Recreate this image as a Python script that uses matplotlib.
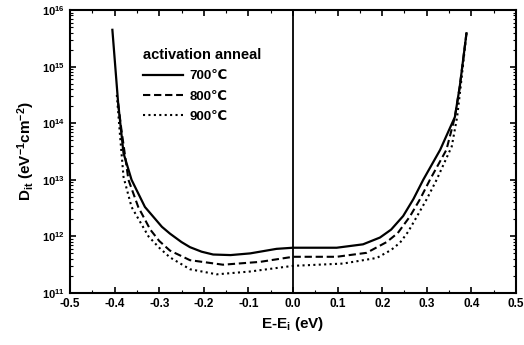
import numpy as np
import matplotlib
matplotlib.use("Agg")
import matplotlib.pyplot as plt
from matplotlib.ticker import MultipleLocator, LogLocator, NullFormatter

plt.rcParams['font.family'] = ['Liberation Sans', 'DejaVu Sans']
plt.rcParams['font.weight'] = 'bold'
plt.rcParams['mathtext.fontset'] = 'custom'
plt.rcParams['mathtext.rm'] = 'Liberation Sans:bold'
plt.rcParams['mathtext.bf'] = 'Liberation Sans:bold'
plt.rcParams['mathtext.it'] = 'Liberation Sans:bold'

# energy (eV) and log10(Dit)
e_700 = [-0.405, -0.392, -0.380, -0.362, -0.332, -0.294, -0.276, -0.250, -0.231, -0.205,
         -0.179, -0.140, -0.096, -0.037, 0.0, 0.098, 0.157, 0.195, 0.220, 0.247,
         0.270, 0.292, 0.330, 0.363, 0.374, 0.389]
log_700 = [15.65, 14.35, 13.47, 13.0, 12.52, 12.17, 12.05, 11.9, 11.81, 11.73,
           11.68, 11.67, 11.70, 11.78, 11.80, 11.80, 11.86, 11.98, 12.12, 12.36,
           12.66, 13.0, 13.53, 14.11, 14.65, 15.59]

e_800 = [-0.392, -0.385, -0.369, -0.347, -0.32, -0.30, -0.276, -0.231, -0.157, -0.074,
         0.0, 0.098, 0.165, 0.21, 0.235, 0.262, 0.285, 0.307, 0.344, 0.363, 0.374, 0.389]
log_800 = [14.35, 13.9, 13.0, 12.52, 12.12, 11.92, 11.75, 11.58, 11.50, 11.55,
           11.64, 11.64, 11.71, 11.9, 12.06, 12.35, 12.66, 13.0, 13.53, 14.11, 14.65, 15.59]

e_900 = [-0.395, -0.388, -0.380, -0.362, -0.324, -0.30, -0.276, -0.231, -0.171, -0.096,
         0.0, 0.112, 0.188, 0.220, 0.24, 0.258, 0.277, 0.300, 0.322, 0.356, 0.368, 0.376, 0.389]
log_900 = [14.5, 13.8, 13.05, 12.52, 12.0, 11.8, 11.63, 11.42, 11.33, 11.38,
           11.48, 11.52, 11.62, 11.76, 11.89, 12.08, 12.34, 12.66, 13.0, 13.59, 14.11, 14.65, 15.59]

labels = ['700\u2103', '800\u2103', '900\u2103']

fig = plt.figure(figsize=(5.24, 3.45), dpi=100)
ax = fig.add_axes([0.1336, 0.1507, 0.8511, 0.8203])

ax.plot(e_900, 10 ** np.array(log_900), color='k', ls=(0, (1, 1.6)), lw=1.5, label=labels[2])
ax.plot(e_800, 10 ** np.array(log_800), color='k', ls=(0, (3.5, 1.8)), lw=1.5, label=labels[1])
ax.plot(e_700, 10 ** np.array(log_700), color='k', ls='-', lw=1.6, label=labels[0])
ax.axvline(0, color='k', lw=1.3)

ax.set_yscale('log')
ax.set_xlim(-0.5, 0.5)
ax.set_ylim(1e11, 1e16)
xt = np.round(np.arange(-0.5, 0.51, 0.1), 1)
ax.set_xticks(xt)
ax.set_xticklabels(['%.1f' % abs(v) if v == 0 else '%.1f' % v for v in xt])
ax.xaxis.set_minor_locator(MultipleLocator(0.05))
ax.set_yticks([10.0 ** k for k in range(11, 17)])
ax.set_yticklabels([r'$10^{%d}$' % k for k in range(11, 17)])
ax.yaxis.set_minor_locator(LogLocator(base=10, subs=np.arange(2, 10), numticks=20))
ax.yaxis.set_minor_formatter(NullFormatter())

ax.tick_params(which='both', direction='in', top=True, right=True)
ax.tick_params(axis='x', labelsize=8.5)
ax.tick_params(axis='y', labelsize=8)
ax.tick_params(which='major', length=4, width=1.2)
ax.tick_params(which='minor', length=2, width=0.8)
for s in ax.spines.values():
    s.set_linewidth(1.5)

ax.set_xlabel(r'E-E$_{\rm i}$ (eV)', fontsize=11, fontweight='bold')
ax.set_ylabel(r'D$_{\rm it}$ (eV$^{-1}$cm$^{-2}$)', fontsize=11, fontweight='bold')

handles, labs = ax.get_legend_handles_labels()
order = [2, 1, 0]
leg = ax.legend([handles[i] for i in order], [labs[i] for i in order],
                title='activation anneal', frameon=False, loc='upper left',
                bbox_to_anchor=(0.164, 0.865), borderpad=0, borderaxespad=0,
                fontsize=9.5, handlelength=3.0, handletextpad=0.5,
                labelspacing=0.6, alignment='left')
leg.get_title().set_fontsize(10.5)
leg.get_title().set_fontweight('bold')

fig.savefig('out.png', dpi=100)
